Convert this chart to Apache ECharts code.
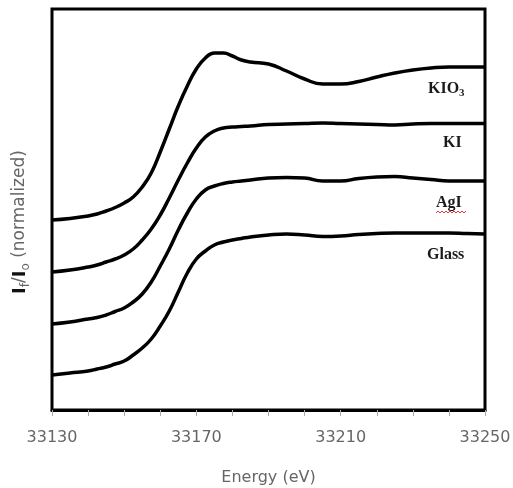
<!DOCTYPE html>
<html>
<head>
<meta charset="utf-8">
<script src="https://cdn.jsdelivr.net/npm/echarts@6/dist/echarts.min.js"></script>
<style>html,body{margin:0;padding:0;background:#fff}#c{width:513px;height:488px}</style>
</head>
<body>
<div id="c"></div>
<script>
const energy = [33130,33135,33140,33142.5,33145,33147.5,33150,33152.5,33155,33157.5,33160,33162.5,33165,33167.5,33170,33172.5,33175,33177.5,33180,33182.5,33185,33190,33195,33200,33205,33210,33215,33220,33225,33230,33235,33240,33245,33250];
const kio3 = [1.90,1.915,1.94,1.96,1.99,2.025,2.07,2.13,2.23,2.37,2.58,2.81,3.04,3.24,3.41,3.52,3.57,3.57,3.54,3.50,3.48,3.46,3.39,3.31,3.26,3.26,3.285,3.33,3.37,3.40,3.42,3.43,3.43,3.43];
const ki = [1.38,1.40,1.43,1.45,1.48,1.51,1.55,1.61,1.70,1.81,1.95,2.12,2.30,2.47,2.62,2.73,2.79,2.82,2.83,2.835,2.84,2.855,2.86,2.865,2.87,2.865,2.86,2.855,2.85,2.86,2.865,2.865,2.865,2.865];
const agi = [0.86,0.88,0.91,0.925,0.95,0.985,1.02,1.08,1.16,1.28,1.44,1.61,1.80,1.97,2.11,2.20,2.24,2.265,2.28,2.29,2.30,2.32,2.325,2.32,2.29,2.29,2.315,2.33,2.335,2.32,2.305,2.29,2.29,2.29];
const glass = [0.35,0.37,0.39,0.41,0.43,0.46,0.49,0.55,0.62,0.71,0.84,0.99,1.18,1.37,1.51,1.59,1.65,1.68,1.70,1.715,1.73,1.75,1.76,1.75,1.735,1.74,1.755,1.765,1.77,1.77,1.77,1.77,1.765,1.76];
const seriesNames = ['KIO3','KI','AgI','Glass'];
const seriesData = [kio3, ki, agi, glass];
const xTicks = [33130, 33170, 33210, 33250];

const chart = echarts.init(document.getElementById('c'), null, {renderer:'canvas'});
const labelFont = 'Liberation Serif';
function seriesLabel(text, x, y) {
  return {type:'text', x:x, y:y, style:{text:text, fontFamily:labelFont, fontWeight:'bold', fontSize:16, fill:'#1a1a1a', textVerticalAlign:'middle', textAlign:'left',
    rich:{n:{fontFamily:labelFont, fontWeight:'bold', fontSize:16, fill:'#1a1a1a', lineHeight:20},
          s:{fontFamily:labelFont, fontWeight:'bold', fontSize:11, fill:'#1a1a1a', lineHeight:11, verticalAlign:'bottom'}}}};
}
// wavy red underline decoration
const wave = [];
for (let i = 0; i <= 15; i++) wave.push([436 + i*2, 212 + (i%2 ? -1 : 1)]);

chart.setOption({
  animation:false,
  backgroundColor:'#fff',
  grid:{left:52, right:28, top:9, bottom:78, show:true, borderColor:'#000', borderWidth:3, backgroundColor:'transparent', outerBoundsMode:'none', containLabel:false},
  xAxis:{type:'value', min:33130, max:33250, interval:40,
    axisLine:{show:true, onZero:false, lineStyle:{color:'#000', width:3}},
    axisTick:{show:true, length:6, lineStyle:{color:'#aaa', width:1}},
    minorTick:{show:true, splitNumber:4, length:6, lineStyle:{color:'#aaa', width:1}},
    splitLine:{show:false},
    axisLabel:{color:'#666', fontSize:16, fontFamily:'DejaVu Sans', margin:20,
      formatter:function(v){return xTicks.indexOf(v)>=0 ? String(v) : '';}},
    name:'Energy (eV)', nameLocation:'middle', nameGap:60,
    nameTextStyle:{color:'#666', fontSize:16, fontFamily:'DejaVu Sans'}
  },
  yAxis:{type:'value', min:0, max:4.01, axisLine:{show:false}, axisTick:{show:false}, axisLabel:{show:false}, splitLine:{show:false}},
  series: seriesData.map((d, k) => ({
    name: seriesNames[k], type:'line', smooth:0.5, showSymbol:false, symbol:'none',
    data: energy.map((e, i) => [e, d[i]]),
    lineStyle:{color:'#000', width:3.5}
  })),
  graphic:[
    {type:'text', x:20, y:222, rotation:Math.PI/2, style:{
      text:'{b|I}{s|f}{g|/}{b|I}{s|o}{g| (normalized)}', textAlign:'center', textVerticalAlign:'middle',
      rich:{
        b:{fontFamily:'DejaVu Sans', fontWeight:'bold', fontSize:18, fill:'#111', lineHeight:24},
        g:{fontFamily:'DejaVu Sans', fontSize:17, fill:'#666', lineHeight:24},
        s:{fontFamily:'DejaVu Sans', fontSize:12, fill:'#666', lineHeight:12, verticalAlign:'bottom'}
      }}},
    seriesLabel('{n|KIO}{s|3}', 428, 89),
    seriesLabel('{n|KI}', 443, 143),
    seriesLabel('{n|AgI}', 436, 203),
    seriesLabel('{n|Glass}', 427, 255),
    {type:'polyline', shape:{points:wave}, style:{stroke:'#e33', lineWidth:1, fill:null}}
  ]
});
</script>
</body>
</html>
